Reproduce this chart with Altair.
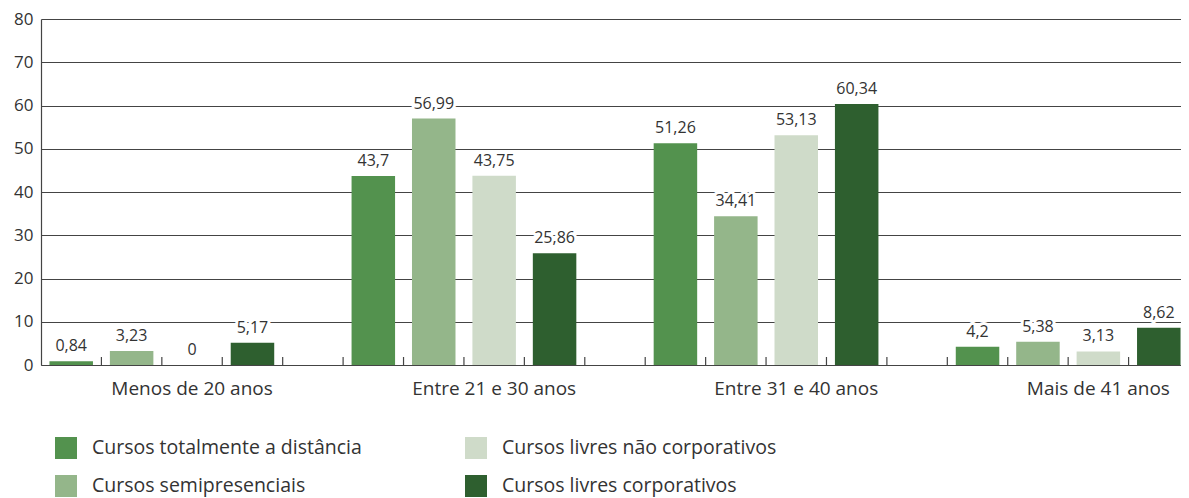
import altair as alt
import pandas as pd

groups = ["Menos de 20 anos", "Entre 21 e 30 anos", "Entre 31 e 40 anos", "Mais de 41 anos"]
series = [
    "Cursos totalmente a distância",
    "Cursos semipresenciais",
    "Cursos livres não corporativos",
    "Cursos livres corporativos",
]
colors = ["#53924E", "#94B68A", "#CFDBC9", "#2E5F2F"]
v_totalmente = [0.84, 43.7, 51.26, 4.2]
v_semipresenciais = [3.23, 56.99, 34.41, 5.38]
v_livres_nao_corp = [0.0, 43.75, 53.13, 3.13]
v_livres_corp = [5.17, 25.86, 60.34, 8.62]
y_ticks = [0, 10, 20, 30, 40, 50, 60, 70, 80]

all_values = [v_totalmente, v_semipresenciais, v_livres_nao_corp, v_livres_corp]

slots = []
for gi in range(len(groups)):
    for si in range(len(series)):
        slots.append(f"{gi}-{si}")
    if gi < len(groups) - 1:
        slots.append(f"{gi}-gap")

rows = []
for si, vals in enumerate(all_values):
    for gi, v in enumerate(vals):
        rows.append(dict(slot=f"{gi}-{si}", serie=series[si], value=v,
                         label=f"{v:g}".replace(".", ",")))
df = pd.DataFrame(rows)
tick_df = pd.DataFrame({"slot": slots[1:]})

label_expr = " : ".join(
    [f"datum.value == '{gi}-2' ? '{g}'" for gi, g in enumerate(groups)]
) + " : ''"

FONT = "Open Sans"
TXT = "#333333"
LINE = "#444444"
W, H = 1148, 346

x_scale = alt.Scale(domain=slots, paddingInner=0, paddingOuter=0)
x_enc = alt.X(
    "slot:N",
    scale=x_scale,
    axis=alt.Axis(
        title=None, bandPosition=0, labelExpr=label_expr, ticks=False,
        domain=True, domainColor=LINE, domainWidth=1.2, labelAngle=0,
        labelFontSize=19, labelPadding=14, labelColor=TXT, labelFont=FONT,
        grid=False,
    ),
)
y_enc = alt.Y(
    "value:Q",
    scale=alt.Scale(domain=[0, 80]),
    axis=alt.Axis(
        values=y_ticks, title=None, grid=True, gridColor=LINE, gridWidth=1.2,
        ticks=False, domainColor=LINE, domainWidth=1.2, labelPadding=8,
        labelFontSize=17, labelColor=TXT, labelFont=FONT,
    ),
)

base = alt.Chart(df)

bars = base.mark_bar(width=alt.RelativeBandSize(0.72)).encode(
    x=x_enc,
    y=y_enc,
    color=alt.Color(
        "serie:N",
        scale=alt.Scale(domain=series, range=colors),
        legend=alt.Legend(
            title=None, orient="none", legendX=14, legendY=418, columns=2,
            symbolType="square", symbolSize=484, symbolStrokeWidth=0,
            labelFontSize=19.5, labelOffset=15, rowPadding=16, columnPadding=103,
            labelColor=TXT, labelFont=FONT, padding=0, labelLimit=600,
        ),
    ),
)

halo = base.mark_text(
    dy=-10, baseline="alphabetic", fontSize=16, font=FONT,
    color="white", stroke="white", strokeWidth=6, strokeJoin="round",
).encode(x=alt.X("slot:N", scale=x_scale), y="value:Q", text="label:N")

labels = base.mark_text(
    dy=-10, baseline="alphabetic", fontSize=16, font=FONT, color=TXT,
).encode(x=alt.X("slot:N", scale=x_scale), y="value:Q", text="label:N")

ticks = alt.Chart(tick_df).mark_rule(color=LINE, strokeWidth=1.2).encode(
    x=alt.X("slot:N", scale=x_scale, bandPosition=0),
    y=alt.value(H),
    y2=alt.value(H - 8),
)

chart = (
    alt.layer(bars, ticks, halo, labels)
    .properties(
        width=W, height=H,
        autosize=alt.AutoSizeParams(type="none"),
        padding={"left": 33, "top": 11, "right": -8, "bottom": 133},
    )
    .configure(font=FONT)
    .configure_view(stroke=None)
)

chart.save("out.html", embed_options={"renderer": "svg", "actions": False})
